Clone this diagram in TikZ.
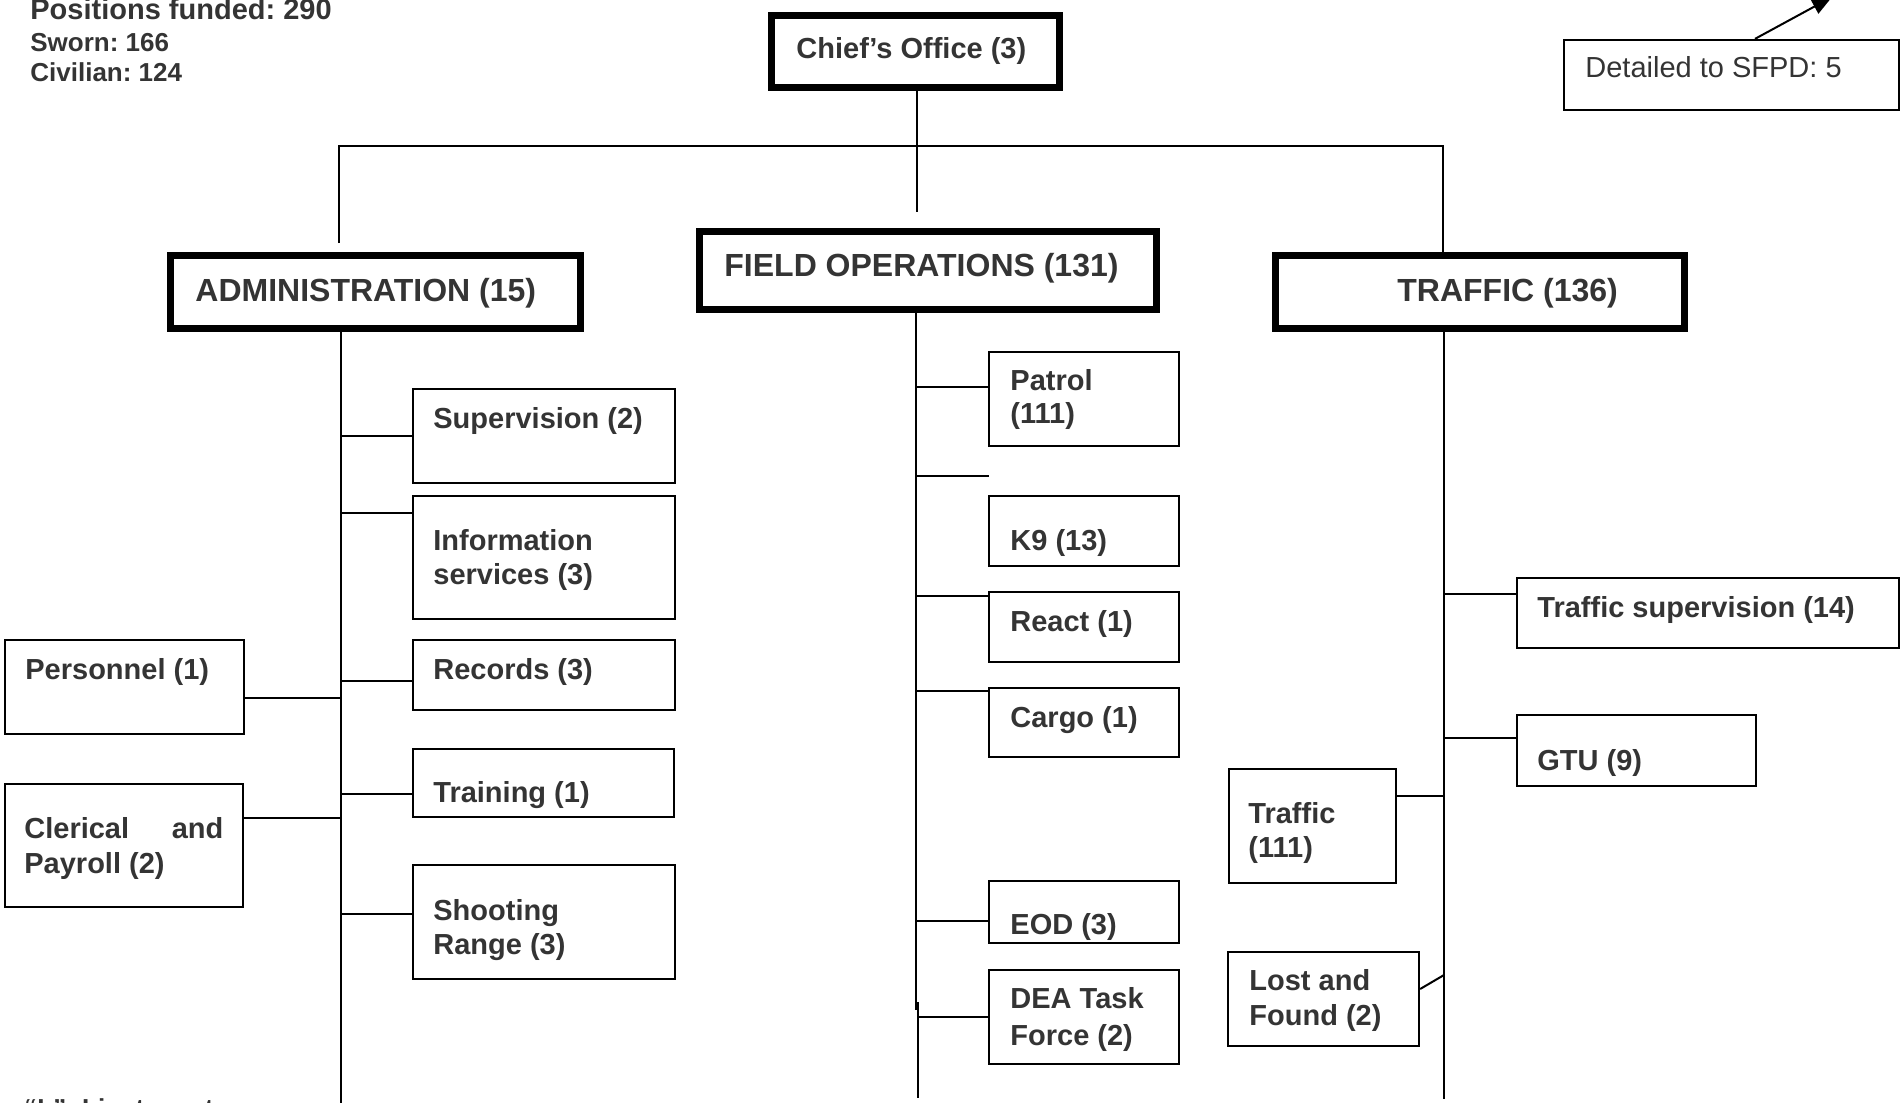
\documentclass[tikz,border=0pt]{standalone}
\usepackage{fontspec}
\setmainfont{Liberation Sans}
\usetikzlibrary{fit,arrows.meta}
\definecolor{tc}{RGB}{52,52,52}
\frenchspacing
\begin{document}
\begin{tikzpicture}[x=0.5pt,y=-0.5pt,
  headbox/.style={draw=black, line width=3.5pt, inner sep=0pt},
  thinbox/.style={draw=black, line width=1.15pt, inner sep=0pt},
  conn/.style={draw=black, line width=1pt},
  bus/.style={draw=black, line width=0.75pt},
  big/.style={anchor=base west, inner sep=0pt, text=tc, font=\bfseries\fontsize{16}{19}\selectfont},
  lbl/.style={anchor=base west, inner sep=0pt, text=tc, font=\bfseries\fontsize{14.5}{17}\selectfont},
  small/.style={anchor=base west, inner sep=0pt, text=tc, font=\bfseries\fontsize{13}{15}\selectfont},
  plain/.style={anchor=base west, inner sep=0pt, text=tc, font=\fontsize{14.5}{17}\selectfont},
]
\useasboundingbox (0,0) rectangle (1901,1103);
\clip (0,0) rectangle (1901,1103);

% header boxes
\node[headbox, fit={(771.5,15.5)(1059.5,87.5)}] (chief) {};
\node[headbox, fit={(170.5,255.5)(580.5,328.5)}] (admin) {};
\node[headbox, fit={(699.5,231.5)(1156.5,309.5)}] (field) {};
\node[headbox, fit={(1275.5,255.5)(1684.5,328.5)}] (traffic) {};

\node[lbl] (chiefT) at (796,58) {Chief’s Office (3)};
\node[big] (adminT) at (195,301) {ADMINISTRATION (15)};
\node[big] (fieldT) at (724,276) {FIELD OPERATIONS (131)};
\node[big] (trafficT) at (1397,301) {TRAFFIC (136)};

% admin children
\node[thinbox, fit={(413,389)(675,483)}] (sup) {};
\node[thinbox, fit={(413,496)(675,619)}] (info) {};
\node[thinbox, fit={(413,640)(675,710)}] (rec) {};
\node[thinbox, fit={(5,640)(244,734)}] (pers) {};
\node[thinbox, fit={(413,749)(674,817)}] (train) {};
\node[thinbox, fit={(5,784)(243,907)}] (cler) {};
\node[thinbox, fit={(413,865)(675,979)}] (shoot) {};

\node[lbl] at (433,428) {Supervision (2)};
\node[lbl] at (433,550) {Information};
\node[lbl] at (433,584) {services (3)};
\node[lbl] at (433,679) {Records (3)};
\node[lbl] at (25,679) {Personnel (1)};
\node[lbl] at (433,802) {Training (1)};
\node[lbl] at (24,838) {\hbox to 99.5pt{Clerical\hfill and}};
\node[lbl] at (24,873) {Payroll (2)};
\node[lbl] at (433,920) {Shooting};
\node[lbl] at (433,954) {Range (3)};

% field children
\node[thinbox, fit={(989,352)(1179,446)}] (patrol) {};
\node[thinbox, fit={(989,496)(1179,566)}] (k9) {};
\node[thinbox, fit={(989,592)(1179,662)}] (react) {};
\node[thinbox, fit={(989,688)(1179,757)}] (cargo) {};
\node[thinbox, fit={(989,881)(1179,943)}] (eod) {};
\node[thinbox, fit={(989,970)(1179,1064)}] (dea) {};

\node[lbl] at (1010,390) {Patrol};
\node[lbl] at (1010,423) {(111)};
\node[lbl] at (1010,550) {K9 (13)};
\node[lbl] at (1010,631) {React (1)};
\node[lbl] at (1010,727) {Cargo (1)};
\node[lbl] at (1010,934) {EOD (3)};
\node[lbl] at (1010,1008) {DEA Task};
\node[lbl] at (1010,1045) {Force (2)};

% traffic children
\node[thinbox, fit={(1517,578)(1899,648)}] (tsup) {};
\node[thinbox, fit={(1517,715)(1756,786)}] (gtu) {};
\node[thinbox, fit={(1229,769)(1396,883)}] (traf) {};
\node[thinbox, fit={(1228,952)(1419,1046)}] (lost) {};

\node[lbl] at (1537,617) {Traffic supervision (14)};
\node[lbl] at (1537,770) {GTU (9)};
\node[lbl] at (1248,823) {Traffic};
\node[lbl] at (1248,857) {(111)};
\node[lbl] at (1249,990) {Lost and};
\node[lbl] at (1249,1025) {Found (2)};

% SFPD box
\node[thinbox, fit={(1564,40)(1899,110)}] (sfpd) {};
\node[plain] at (1585,77) {Detailed to SFPD: 5};

% top-left and bottom texts
\node[lbl] at (30,19) {Positions funded: 290};
\node[small] at (30,51) {Sworn: 166};
\node[small] at (30,81) {Civilian: 124};
\node[small] at (24,1117) {“L”- Lieutenant};

% top connectors
\coordinate (busL) at (339,146);
\coordinate (busR) at (1443,146);
\coordinate (admTop) at (339,243);
\coordinate (ctrEnd) at (916.5,212);
\draw[bus] (admTop) -- (busL) -- (busR) -- (busR |- traffic.north);
\draw[conn] (chief.south -| ctrEnd) -- (ctrEnd);

% spines
\coordinate (aS1) at (341,330);
\coordinate (aS2) at (341,1110);
\draw[conn] (aS1 |- admin.south) -- (aS2);
\coordinate (fS1) at (915.5,311);
\coordinate (fS2) at (915.5,1010);
\coordinate (fS3) at (917.5,1002);
\coordinate (fS4) at (917.5,1098);
\draw[conn] (fS1 |- field.south) -- (fS2);
\draw[conn] (fS3) -- (fS4);
\coordinate (tS1) at (1444,330);
\coordinate (tS2) at (1444,1099);
\draw[conn] (tS1 |- traffic.south) -- (tS2);

% admin branches
\coordinate (bSup) at (341,436);
\coordinate (bInfo) at (341,513);
\coordinate (bRec) at (341,681);
\coordinate (bPers) at (341,698);
\coordinate (bTrain) at (341,794);
\coordinate (bCler) at (341,818);
\coordinate (bShoot) at (341,914);
\draw[conn] (bSup) -- (bSup -| sup.west);
\draw[conn] (bInfo) -- (bInfo -| info.west);
\draw[conn] (bRec) -- (bRec -| rec.west);
\draw[conn] (bPers) -- (bPers -| pers.east);
\draw[conn] (bTrain) -- (bTrain -| train.west);
\draw[conn] (bCler) -- (bCler -| cler.east);
\draw[conn] (bShoot) -- (bShoot -| shoot.west);

% field branches
\coordinate (bPatrol) at (915.5,387);
\coordinate (stubA) at (915.5,476);
\coordinate (stubB) at (989,476);
\coordinate (bReact) at (915.5,596);
\coordinate (bCargo) at (915.5,691);
\coordinate (bEod) at (915.5,921);
\coordinate (bDea) at (917.5,1017);
\draw[conn] (bPatrol) -- (bPatrol -| patrol.west);
\draw[conn] (stubA) -- (stubB);
\draw[conn] (bReact) -- (bReact -| react.west);
\draw[conn] (bCargo) -- (bCargo -| cargo.west);
\draw[conn] (bEod) -- (bEod -| eod.west);
\draw[conn] (bDea) -- (bDea -| dea.west);

% traffic branches
\coordinate (bTsup) at (1444,594);
\coordinate (bGtu) at (1444,738);
\coordinate (bTraf) at (1444,796);
\coordinate (bLost) at (1444,975);
\draw[conn] (bTsup) -- (bTsup -| tsup.west);
\draw[conn] (bGtu) -- (bGtu -| gtu.west);
\draw[conn] (bTraf) -- (bTraf -| traf.east);
\draw[conn] (bLost) -- ([yshift=5pt]lost.east);

% SFPD arrow
\coordinate (arrEnd) at (1832,-3);
\draw[conn, -{Triangle[length=10pt,width=8pt]}] ([xshift=11.75pt]sfpd.north) -- (arrEnd);
\end{tikzpicture}
\end{document}
